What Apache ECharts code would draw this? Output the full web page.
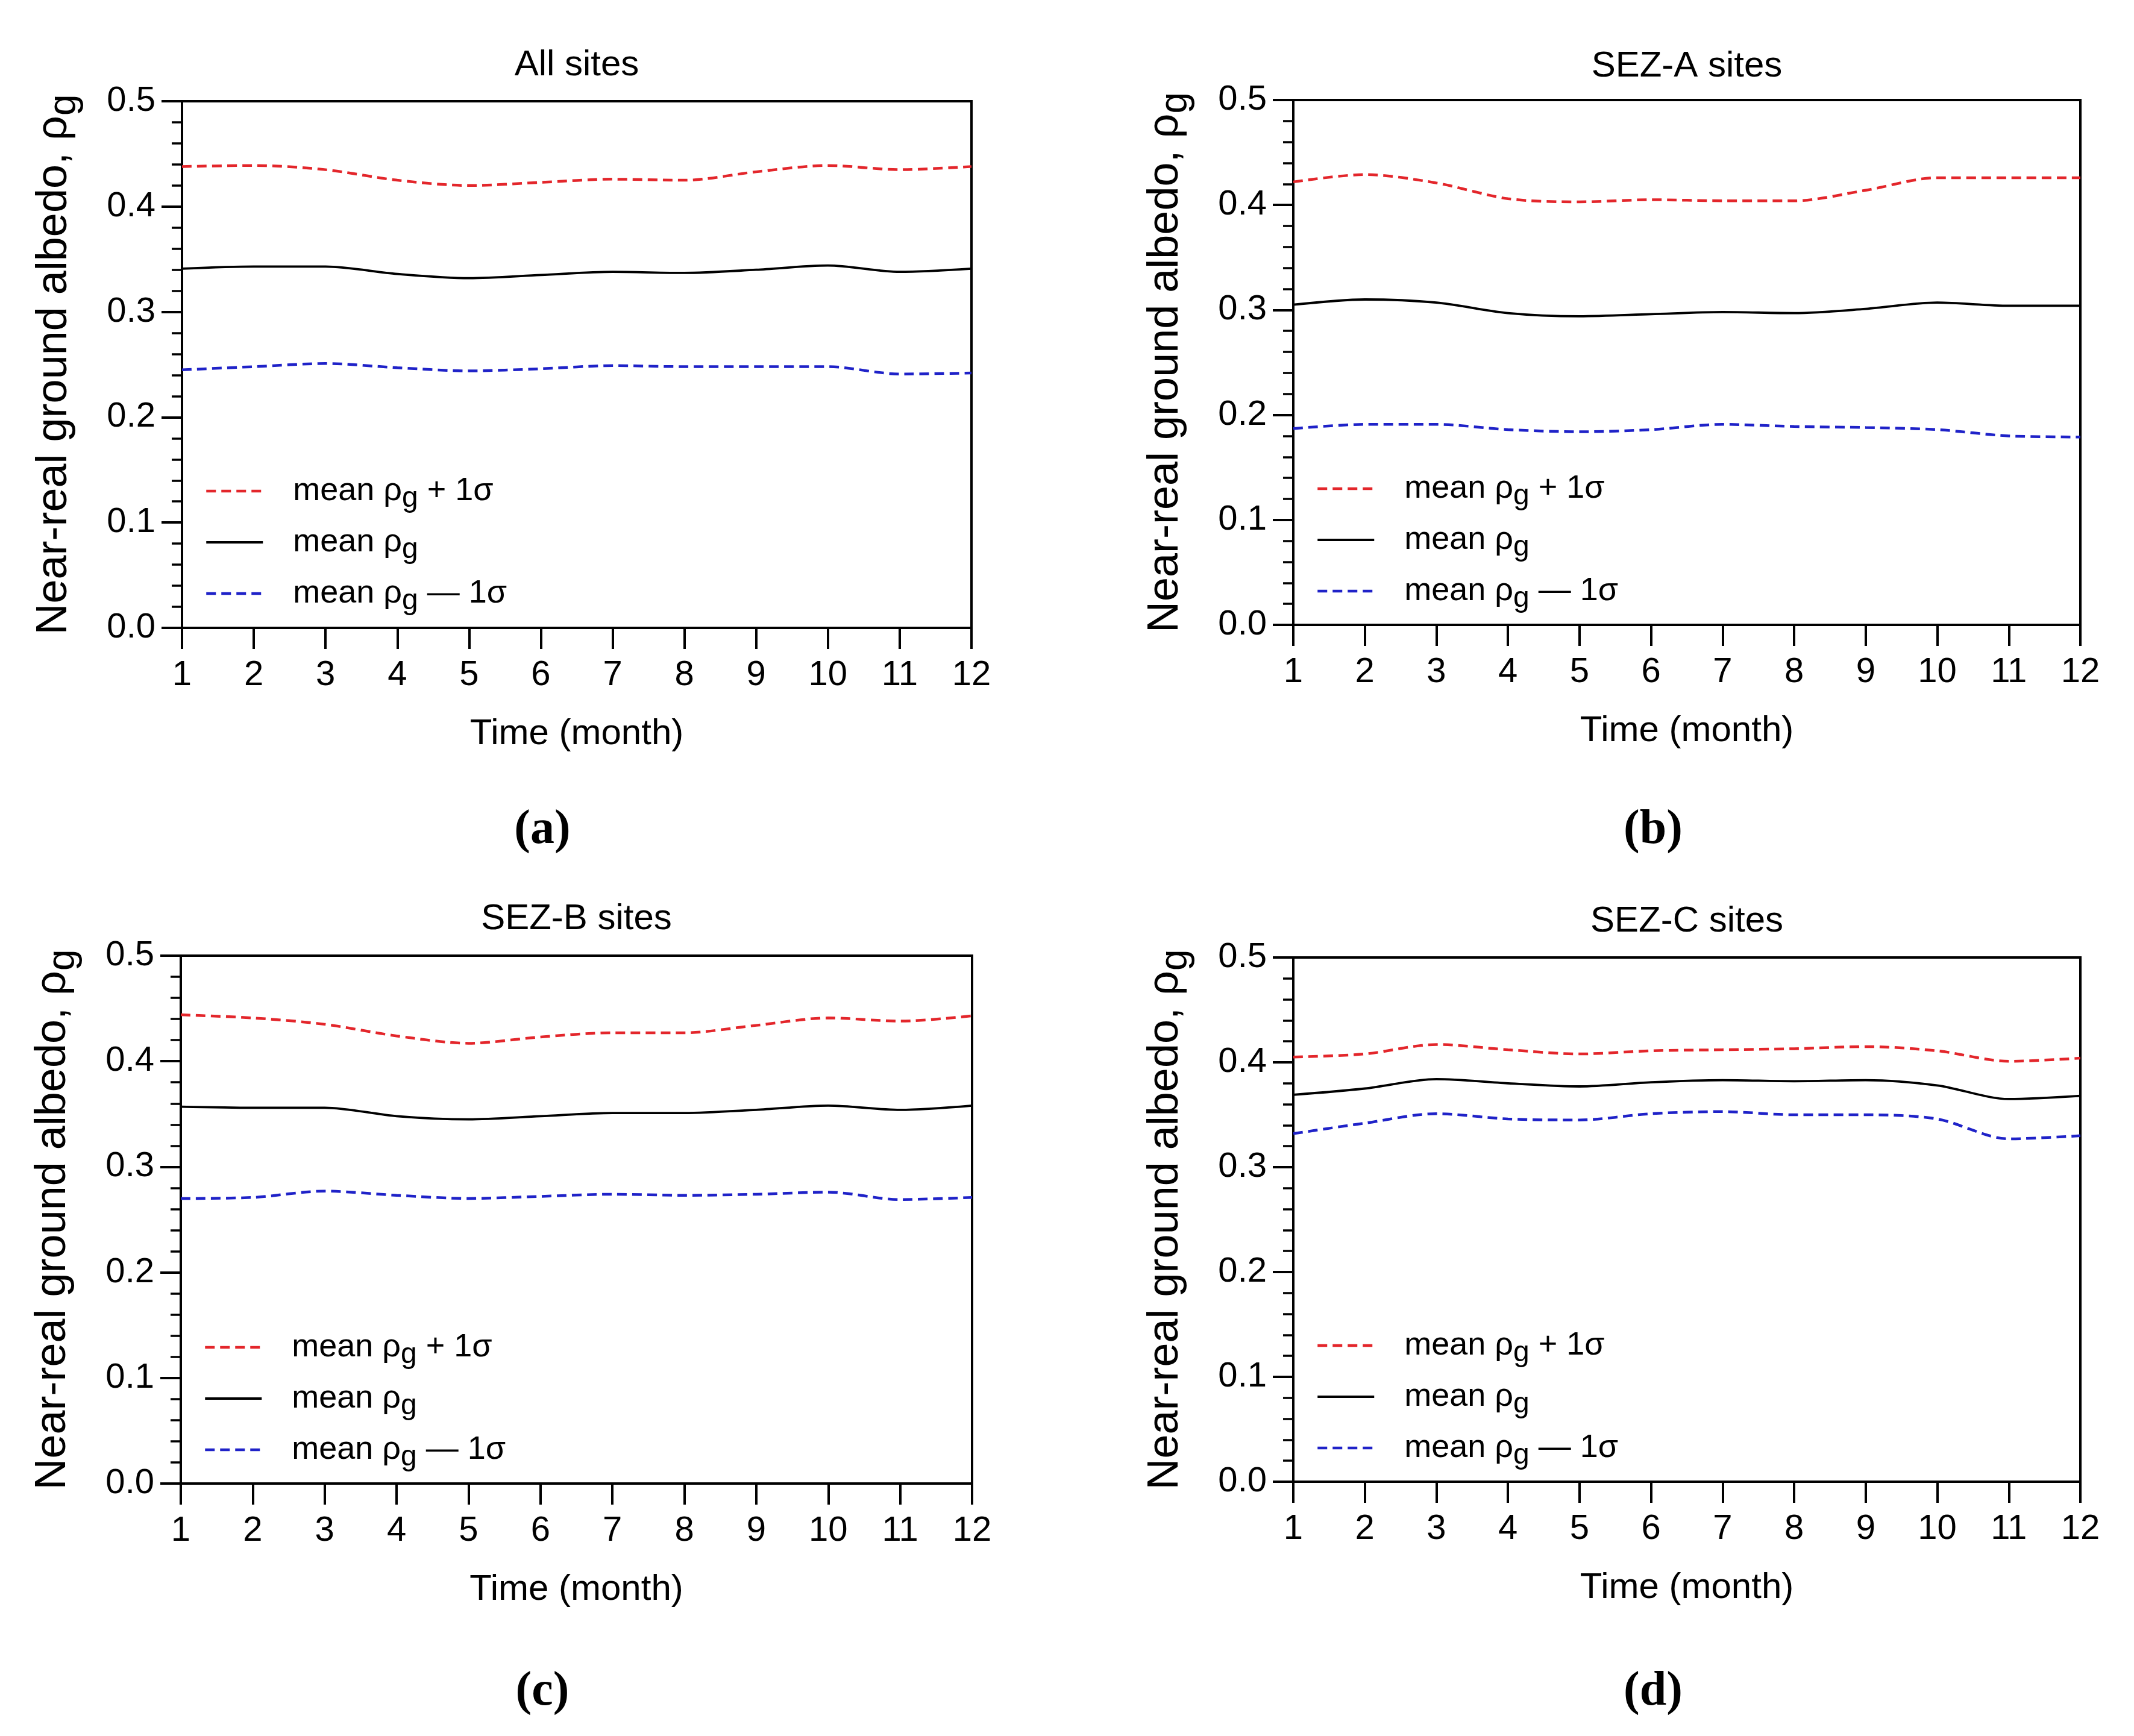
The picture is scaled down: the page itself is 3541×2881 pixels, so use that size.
<!DOCTYPE html>
<html>
<head>
<meta charset="utf-8">
<script src="https://cdn.jsdelivr.net/npm/echarts@6/dist/echarts.min.js"></script>
<style>
html,body{margin:0;padding:0;background:#fff;}
#chart{width:3541px;height:2881px;}
</style>
</head>
<body>
<div id="chart"></div>
<script>
// ---- data ----
const months = [1,2,3,4,5,6,7,8,9,10,11,12];
const yTicks = [0.0, 0.1, 0.2, 0.3, 0.4, 0.5];
const panelTitles = ['All sites', 'SEZ-A sites', 'SEZ-B sites', 'SEZ-C sites'];
const panelLetters = ['a', 'b', 'c', 'd'];
const seriesNames = ['mean ρg + 1σ', 'mean ρg', 'mean ρg — 1σ'];

const allPlus  = [0.438, 0.439, 0.435, 0.425, 0.420, 0.423, 0.426, 0.425, 0.433, 0.439, 0.435, 0.438];
const allMean  = [0.341, 0.343, 0.343, 0.336, 0.332, 0.335, 0.338, 0.337, 0.340, 0.344, 0.338, 0.341];
const allMinus = [0.245, 0.248, 0.251, 0.247, 0.244, 0.246, 0.249, 0.248, 0.248, 0.248, 0.241, 0.242];

const sezAPlus  = [0.422, 0.429, 0.421, 0.406, 0.403, 0.405, 0.404, 0.404, 0.414, 0.426, 0.426, 0.426];
const sezAMean  = [0.305, 0.310, 0.307, 0.297, 0.294, 0.296, 0.298, 0.297, 0.301, 0.307, 0.304, 0.304];
const sezAMinus = [0.187, 0.191, 0.191, 0.186, 0.184, 0.186, 0.191, 0.189, 0.188, 0.186, 0.180, 0.179];

const sezBPlus  = [0.444, 0.441, 0.435, 0.424, 0.417, 0.423, 0.427, 0.427, 0.434, 0.441, 0.438, 0.443];
const sezBMean  = [0.357, 0.356, 0.356, 0.348, 0.345, 0.348, 0.351, 0.351, 0.354, 0.358, 0.354, 0.358];
const sezBMinus = [0.270, 0.271, 0.277, 0.273, 0.270, 0.272, 0.274, 0.273, 0.274, 0.276, 0.269, 0.271];

const sezCPlus  = [0.405, 0.408, 0.417, 0.412, 0.408, 0.411, 0.412, 0.413, 0.415, 0.411, 0.401, 0.404];
const sezCMean  = [0.369, 0.375, 0.384, 0.380, 0.377, 0.381, 0.383, 0.382, 0.383, 0.378, 0.365, 0.368];
const sezCMinus = [0.332, 0.342, 0.351, 0.346, 0.345, 0.351, 0.353, 0.350, 0.350, 0.346, 0.327, 0.330];

const panelData = [
  [allPlus, allMean, allMinus],
  [sezAPlus, sezAMean, sezAMinus],
  [sezBPlus, sezBMean, sezBMinus],
  [sezCPlus, sezCMean, sezCMinus]
];

// ---- layout / style ----
const FONT = '"Liberation Sans", Arial, sans-serif';
const SERIF = '"Liberation Serif", "Times New Roman", serif';
const grids = [
  {left: 302,  top: 168,  width: 1310, height: 874},
  {left: 2146, top: 166,  width: 1306, height: 871},
  {left: 300,  top: 1586, width: 1313, height: 876},
  {left: 2146, top: 1589, width: 1306, height: 870}
];
const titleY = [78, 80, 1495, 1499];
const letterPos = [[900, 1338], [2743, 1338], [900, 2768], [2743, 2768]];
const legendTop = [788, 784, 2209, 2206];
const colors = ['#e3262b', '#000000', '#1f22c8'];
const dash = [[16, 9], 'solid', [16, 9]];
const widths = [4.5, 3.8, 4.5];
const richLegend = {
  t: {fontSize: 54, fontFamily: FONT, color: '#000'},
  s: {fontSize: 48, fontFamily: FONT, color: '#000', padding: [26, 0, 0, 0]}
};
function legendFmt(name) {
  if (name === seriesNames[0]) return '{t|mean ρ}{s|g}{t| + 1σ}';
  if (name === seriesNames[1]) return '{t|mean ρ}{s|g}';
  return '{t|mean ρ}{s|g}{t| — 1σ}';
}

const option = {
  backgroundColor: '#ffffff',
  animation: false,
  title: [],
  legend: [],
  grid: [],
  xAxis: [],
  yAxis: [],
  series: []
};

for (let p = 0; p < 4; p++) {
  const g = grids[p];
  option.grid.push({
    left: g.left, top: g.top, width: g.width, height: g.height,
    show: true, borderColor: '#000', borderWidth: 4, backgroundColor: 'transparent'
  });
  option.title.push({
    text: panelTitles[p], left: g.left + g.width / 2, top: titleY[p], textAlign: 'center', padding: 0,
    textStyle: {fontFamily: FONT, fontSize: 60, fontWeight: 'normal', color: '#000'}
  });
  option.title.push({
    text: '{p|(}{b|' + panelLetters[p] + '}{p|)}', left: letterPos[p][0], top: letterPos[p][1], textAlign: 'center', padding: 0,
    textStyle: {
      rich: {
        p: {fontFamily: SERIF, fontSize: 80, color: '#000'},
        b: {fontFamily: SERIF, fontSize: 80, fontWeight: 'bold', color: '#000'}
      }
    }
  });
  option.xAxis.push({
    gridIndex: p, type: 'value', min: 1, max: 12, interval: 1,
    name: 'Time (month)', nameLocation: 'middle', nameGap: 146,
    nameTextStyle: {fontFamily: FONT, fontSize: 60, color: '#000'},
    axisLine: {show: true, lineStyle: {color: '#000', width: 4}},
    axisTick: {show: true, inside: false, length: 35, lineStyle: {color: '#000', width: 4}},
    axisLabel: {fontFamily: FONT, fontSize: 58, color: '#000', margin: 50},
    splitLine: {show: false}
  });
  option.yAxis.push({
    gridIndex: p, type: 'value', min: yTicks[0], max: yTicks[yTicks.length - 1], interval: 0.1,
    name: '{t|Near-real ground albedo, ρ}{s|g}', nameLocation: 'middle', nameGap: 163, nameRotate: 90,
    nameTextStyle: {
      rich: {
        t: {fontFamily: FONT, fontSize: 72, color: '#000'},
        s: {fontFamily: FONT, fontSize: 64, color: '#000', padding: [34, 0, 0, 0]}
      }
    },
    axisLine: {show: true, lineStyle: {color: '#000', width: 4}},
    axisTick: {show: true, inside: false, length: 34, lineStyle: {color: '#000', width: 4}},
    minorTick: {show: true, splitNumber: 5, length: 17, lineStyle: {color: '#000', width: 3.5}},
    axisLabel: {fontFamily: FONT, fontSize: 58, color: '#000', margin: 44, formatter: v => v.toFixed(1)},
    splitLine: {show: false},
    minorSplitLine: {show: false}
  });
  option.legend.push({
    orient: 'vertical', left: g.left + 38, top: legendTop[p], padding: 0,
    itemWidth: 94, itemHeight: 20, itemGap: 21,
    selectedMode: false,
    data: seriesNames.map((n, k) => ({
      name: n,
      lineStyle: {color: colors[k], width: widths[k], type: dash[k], opacity: 1}
    })),
    formatter: legendFmt,
    itemStyle: {opacity: 0},
    textStyle: {fontFamily: FONT, fontSize: 54, color: '#000', padding: [0, 0, 0, 45], rich: richLegend}
  });
  for (let k = 0; k < 3; k++) {
    const vals = panelData[p][k];
    option.series.push({
      type: 'line', name: seriesNames[k], xAxisIndex: p, yAxisIndex: p,
      data: months.map((m, i) => [m, vals[i]]),
      symbol: 'none', showSymbol: false, smooth: 0.3,
      lineStyle: {color: colors[k], width: widths[k], type: dash[k]},
      itemStyle: {color: colors[k]},
      emphasis: {disabled: true}
    });
  }
}

const chart = echarts.init(document.getElementById('chart'));
chart.setOption(option);
</script>
</body>
</html>
